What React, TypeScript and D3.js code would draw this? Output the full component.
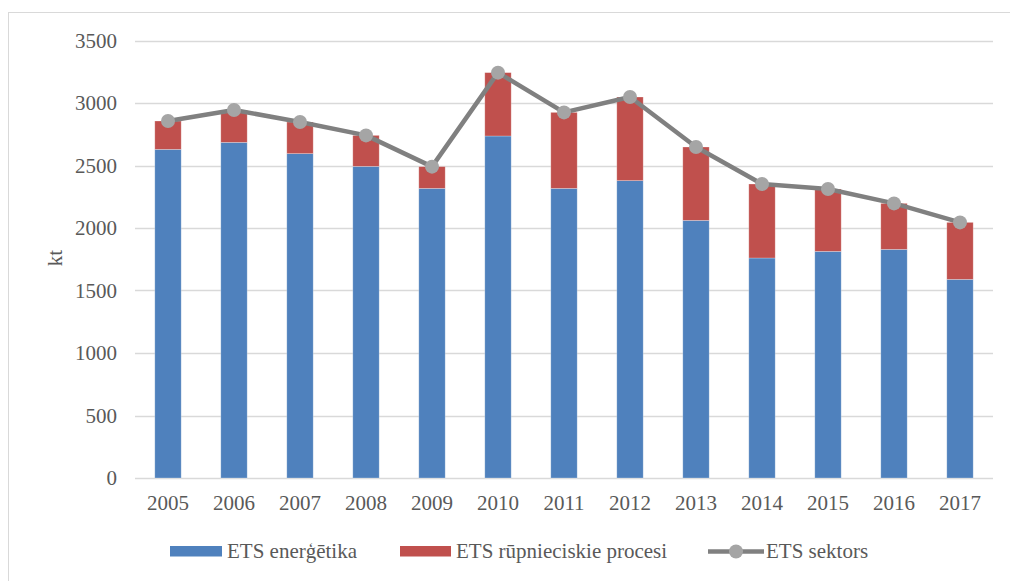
import React from "react";
import * as d3 from "d3";

const years = ["2005","2006","2007","2008","2009","2010","2011","2012","2013","2014","2015","2016","2017"];
const energy = [2629, 2685, 2595, 2493, 2317, 2736, 2317, 2379, 2061, 1760, 1813, 1829, 1589];
const industry = [227, 259, 253, 248, 174, 507, 608, 669, 587, 592, 499, 368, 456];
const sector = [2856, 2944, 2848, 2741, 2491, 3243, 2925, 3048, 2648, 2352, 2312, 2197, 2045];
const yTicks = [0, 500, 1000, 1500, 2000, 2500, 3000, 3500];
const seriesNames = ["ETS enerģētika", "ETS rūpnieciskie procesi", "ETS sektors"];

const W = 1010, H = 581;
const FONT = "Liberation Serif, Times New Roman, Times, serif";
const BLUE = "#4f81bd", RED = "#c0504d", LINE = "#808080", MARK = "#a5a5a5";

export default function App() {
  const x = d3.scaleBand<string>().domain(years).range([135, 993]).paddingInner(0.6).paddingOuter(0.3);
  const xc = (y: string) => (x(y) as number) + x.bandwidth() / 2;
  const y = d3.scaleLinear().domain([0, 3500]).range([478, 40.5]);
  const line = d3.line<number>().x((_, i) => xc(years[i])).y((d) => y(d));
  const ts = { fontFamily: FONT };

  return (
    <div style={{ position: "fixed", left: 0, top: 0, width: W, height: H, background: "#fff" }}>
      <svg width={W} height={H} style={{ display: "block", fontFamily: FONT }}>
        <rect x={0} y={0} width={W} height={H} fill="#fff" />
        <rect x={8.5} y={12.5} width={W + 20} height={H + 20} fill="none" stroke="#d9d9d9" strokeWidth={1} />
        {yTicks.map((t) => (
          <g key={t}>
            <line x1={135} x2={993} y1={Math.round(y(t)) + 0.5} y2={Math.round(y(t)) + 0.5} stroke="#d9d9d9" strokeWidth={1.5} />
            <text style={ts} x={117} y={y(t) + 7} textAnchor="end" fontSize={21} fill="#595959">{t}</text>
          </g>
        ))}
        <text style={ts} transform="translate(62,258) rotate(-90)" textAnchor="middle" fontSize={21} fill="#595959">kt</text>
        {years.map((yr, i) => (
          <g key={yr}>
            <rect x={x(yr)} y={y(energy[i])} width={x.bandwidth()} height={y(0) - y(energy[i])} fill={BLUE} stroke="#fff" strokeOpacity={0.35} strokeWidth={0.75} />
            <rect x={x(yr)} y={y(energy[i] + industry[i])} width={x.bandwidth()} height={y(energy[i]) - y(energy[i] + industry[i])} fill={RED} stroke="#fff" strokeOpacity={0.35} strokeWidth={0.75} />
            <text style={ts} x={xc(yr)} y={510} textAnchor="middle" fontSize={21} fill="#595959">{yr}</text>
          </g>
        ))}
        <path d={line(sector) as string} fill="none" stroke={LINE} strokeWidth={4.5} strokeLinejoin="round" />
        {sector.map((v, i) => (
          <circle key={i} cx={xc(years[i])} cy={y(v)} r={7} fill={MARK} />
        ))}
        <g fontSize={21} fill="#595959">
          <rect x={170} y={546} width={52} height={10.5} fill={BLUE} />
          <text style={ts} x={227} y={558}>{seriesNames[0]}</text>
          <rect x={400} y={546} width={51} height={10.5} fill={RED} />
          <text style={ts} x={456} y={558}>{seriesNames[1]}</text>
          <line x1={708} x2={764} y1={551.5} y2={551.5} stroke={LINE} strokeWidth={4.5} />
          <circle cx={736} cy={551.5} r={7} fill={MARK} />
          <text style={ts} x={766} y={558}>{seriesNames[2]}</text>
        </g>
      </svg>
    </div>
  );
}
